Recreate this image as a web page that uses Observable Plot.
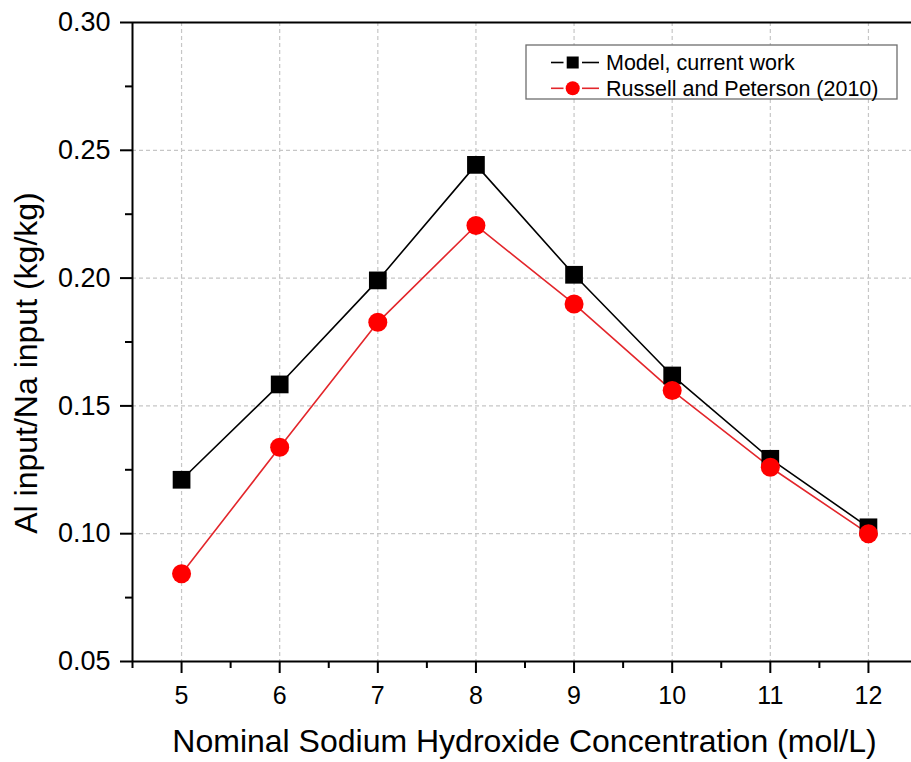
<!DOCTYPE html>
<html>
<head>
<meta charset="utf-8">
<script src="https://cdn.jsdelivr.net/npm/d3@7"></script>
<script src="https://cdn.jsdelivr.net/npm/@observablehq/plot@0.6"></script>
<style>
  html, body { margin: 0; padding: 0; background: #fff; overflow: hidden; }
  #chart { position: relative; width: 911px; height: 762px; }
</style>
</head>
<body>
<div id="chart"></div>
<script>
// NaOH concentration (mol/L) and Al/Na input ratios (kg/kg)
const concentration = [5, 6, 7, 8, 9, 10, 11, 12];
const modelValues   = [0.1211, 0.1584, 0.1991, 0.2443, 0.2013, 0.1619, 0.1293, 0.1025];
const russellValues = [0.0843, 0.1338, 0.1827, 0.2206, 0.1899, 0.1560, 0.1260, 0.1000];

const seriesNames = ["Model, current work", "Russell and Peterson (2010)"];
const xTitle = "Nominal Sodium Hydroxide Concentration (mol/L)";
const yTitle = "Al input/Na input (kg/kg)";

const xTicks = [5, 6, 7, 8, 9, 10, 11, 12];
const xMinorTicks = [4.5, 5.5, 6.5, 7.5, 8.5, 9.5, 10.5, 11.5];
const yTicks = [0.05, 0.10, 0.15, 0.20, 0.25, 0.30];
const yMinorTicks = [0.075, 0.125, 0.175, 0.225, 0.275];
const xDomain = [4.5, 12.5];
const yDomain = [0.05, 0.30];

const modelRows = concentration.map((c, i) => ({c, v: modelValues[i]}));
const russellRows = concentration.map((c, i) => ({c, v: russellValues[i]}));

const black = "#000";
const redLine = "#e3262b";
const redDot = "#ff0000";
const grid = {stroke: "#c6c6c6", strokeOpacity: 1, strokeWidth: 1.2, strokeDasharray: "4,3"};
const FONT = "'Liberation Sans', Arial, sans-serif";

const W = 911, H = 762;
const M = {left: 132, top: 22, bottom: 101, right: -6};

const plot = Plot.plot({
  width: W,
  height: H,
  marginLeft: M.left,
  marginTop: M.top,
  marginBottom: M.bottom,
  marginRight: M.right,
  style: {fontFamily: FONT, background: "#fff", color: "#000", overflow: "visible"},
  x: {domain: xDomain, label: null},
  y: {domain: yDomain, label: null},
  marks: [
    Plot.gridX(xTicks, grid),
    Plot.gridY(yTicks.filter(t => t > yDomain[0] && t < yDomain[1]), grid),
    // minor ticks
    Plot.axisX(xMinorTicks, {tickSize: 7, tickFormat: () => "", strokeWidth: 2, label: null}),
    Plot.axisY(yMinorTicks, {tickSize: 7, tickFormat: () => "", strokeWidth: 2, label: null}),
    // major ticks with labels
    Plot.axisX(xTicks, {tickSize: 12, tickPadding: 13, fontSize: 25, tickFormat: d => String(d), strokeWidth: 2, label: null}),
    Plot.axisY(yTicks, {tickSize: 12, tickPadding: 10, fontSize: 27, tickFormat: d3.format(".2f"), strokeWidth: 2, label: null}),
    // axis lines
    Plot.ruleX([xDomain[0]], {stroke: black, strokeWidth: 2}),
    Plot.ruleY([yDomain[0]], {stroke: black, strokeWidth: 2}),
    Plot.ruleY([yDomain[1]], {stroke: black, strokeWidth: 2}),
    // series
    Plot.line(modelRows, {x: "c", y: "v", stroke: black, strokeWidth: 1.6}),
    Plot.line(russellRows, {x: "c", y: "v", stroke: redLine, strokeWidth: 1.6}),
    Plot.dot(modelRows, {x: "c", y: "v", symbol: "square", r: 10, fill: black}),
    Plot.dot(russellRows, {x: "c", y: "v", symbol: "circle", r: 9.5, fill: redDot})
  ]
});

document.getElementById("chart").appendChild(plot);

const svg = d3.select(plot);
const cx = (M.left + (W - M.right)) / 2;

// axis titles
svg.append("text")
  .attr("x", cx).attr("y", 752)
  .attr("text-anchor", "middle")
  .attr("font-family", FONT).attr("font-size", 32).attr("fill", "#000")
  .text(xTitle);

svg.append("text")
  .attr("transform", "translate(37,363) rotate(-90)")
  .attr("text-anchor", "middle")
  .attr("font-family", FONT).attr("font-size", 32).attr("fill", "#000")
  .text(yTitle);

// legend
const legend = svg.append("g").attr("transform", "translate(526,45)");
legend.append("rect")
  .attr("width", 371).attr("height", 54)
  .attr("fill", "#fff").attr("stroke", "#6e6e6e").attr("stroke-width", 1.3);

const legendStyles = [
  {line: black, fill: black, symbol: d3.symbolSquare, size: 144},
  {line: redLine, fill: redDot, symbol: d3.symbolCircle, size: Math.PI * 49}
];
seriesNames.forEach((name, i) => {
  const y = 17.5 + i * 25.8;
  const s = legendStyles[i];
  const row = legend.append("g").attr("transform", `translate(0,${y})`);
  row.append("line").attr("x1", 25).attr("x2", 37.5).attr("y1", 0).attr("y2", 0)
    .attr("stroke", s.line).attr("stroke-width", 1.6);
  row.append("line").attr("x1", 56).attr("x2", 73).attr("y1", 0).attr("y2", 0)
    .attr("stroke", s.line).attr("stroke-width", 1.6);
  row.append("path").attr("transform", "translate(46.7,0)")
    .attr("d", d3.symbol(s.symbol, s.size)()).attr("fill", s.fill);
  row.append("text").attr("x", 80).attr("y", 0).attr("dy", "0.36em")
    .attr("text-anchor", "start")
    .attr("font-family", FONT).attr("font-size", 21.5).attr("fill", "#000")
    .text(name);
});
</script>
</body>
</html>
